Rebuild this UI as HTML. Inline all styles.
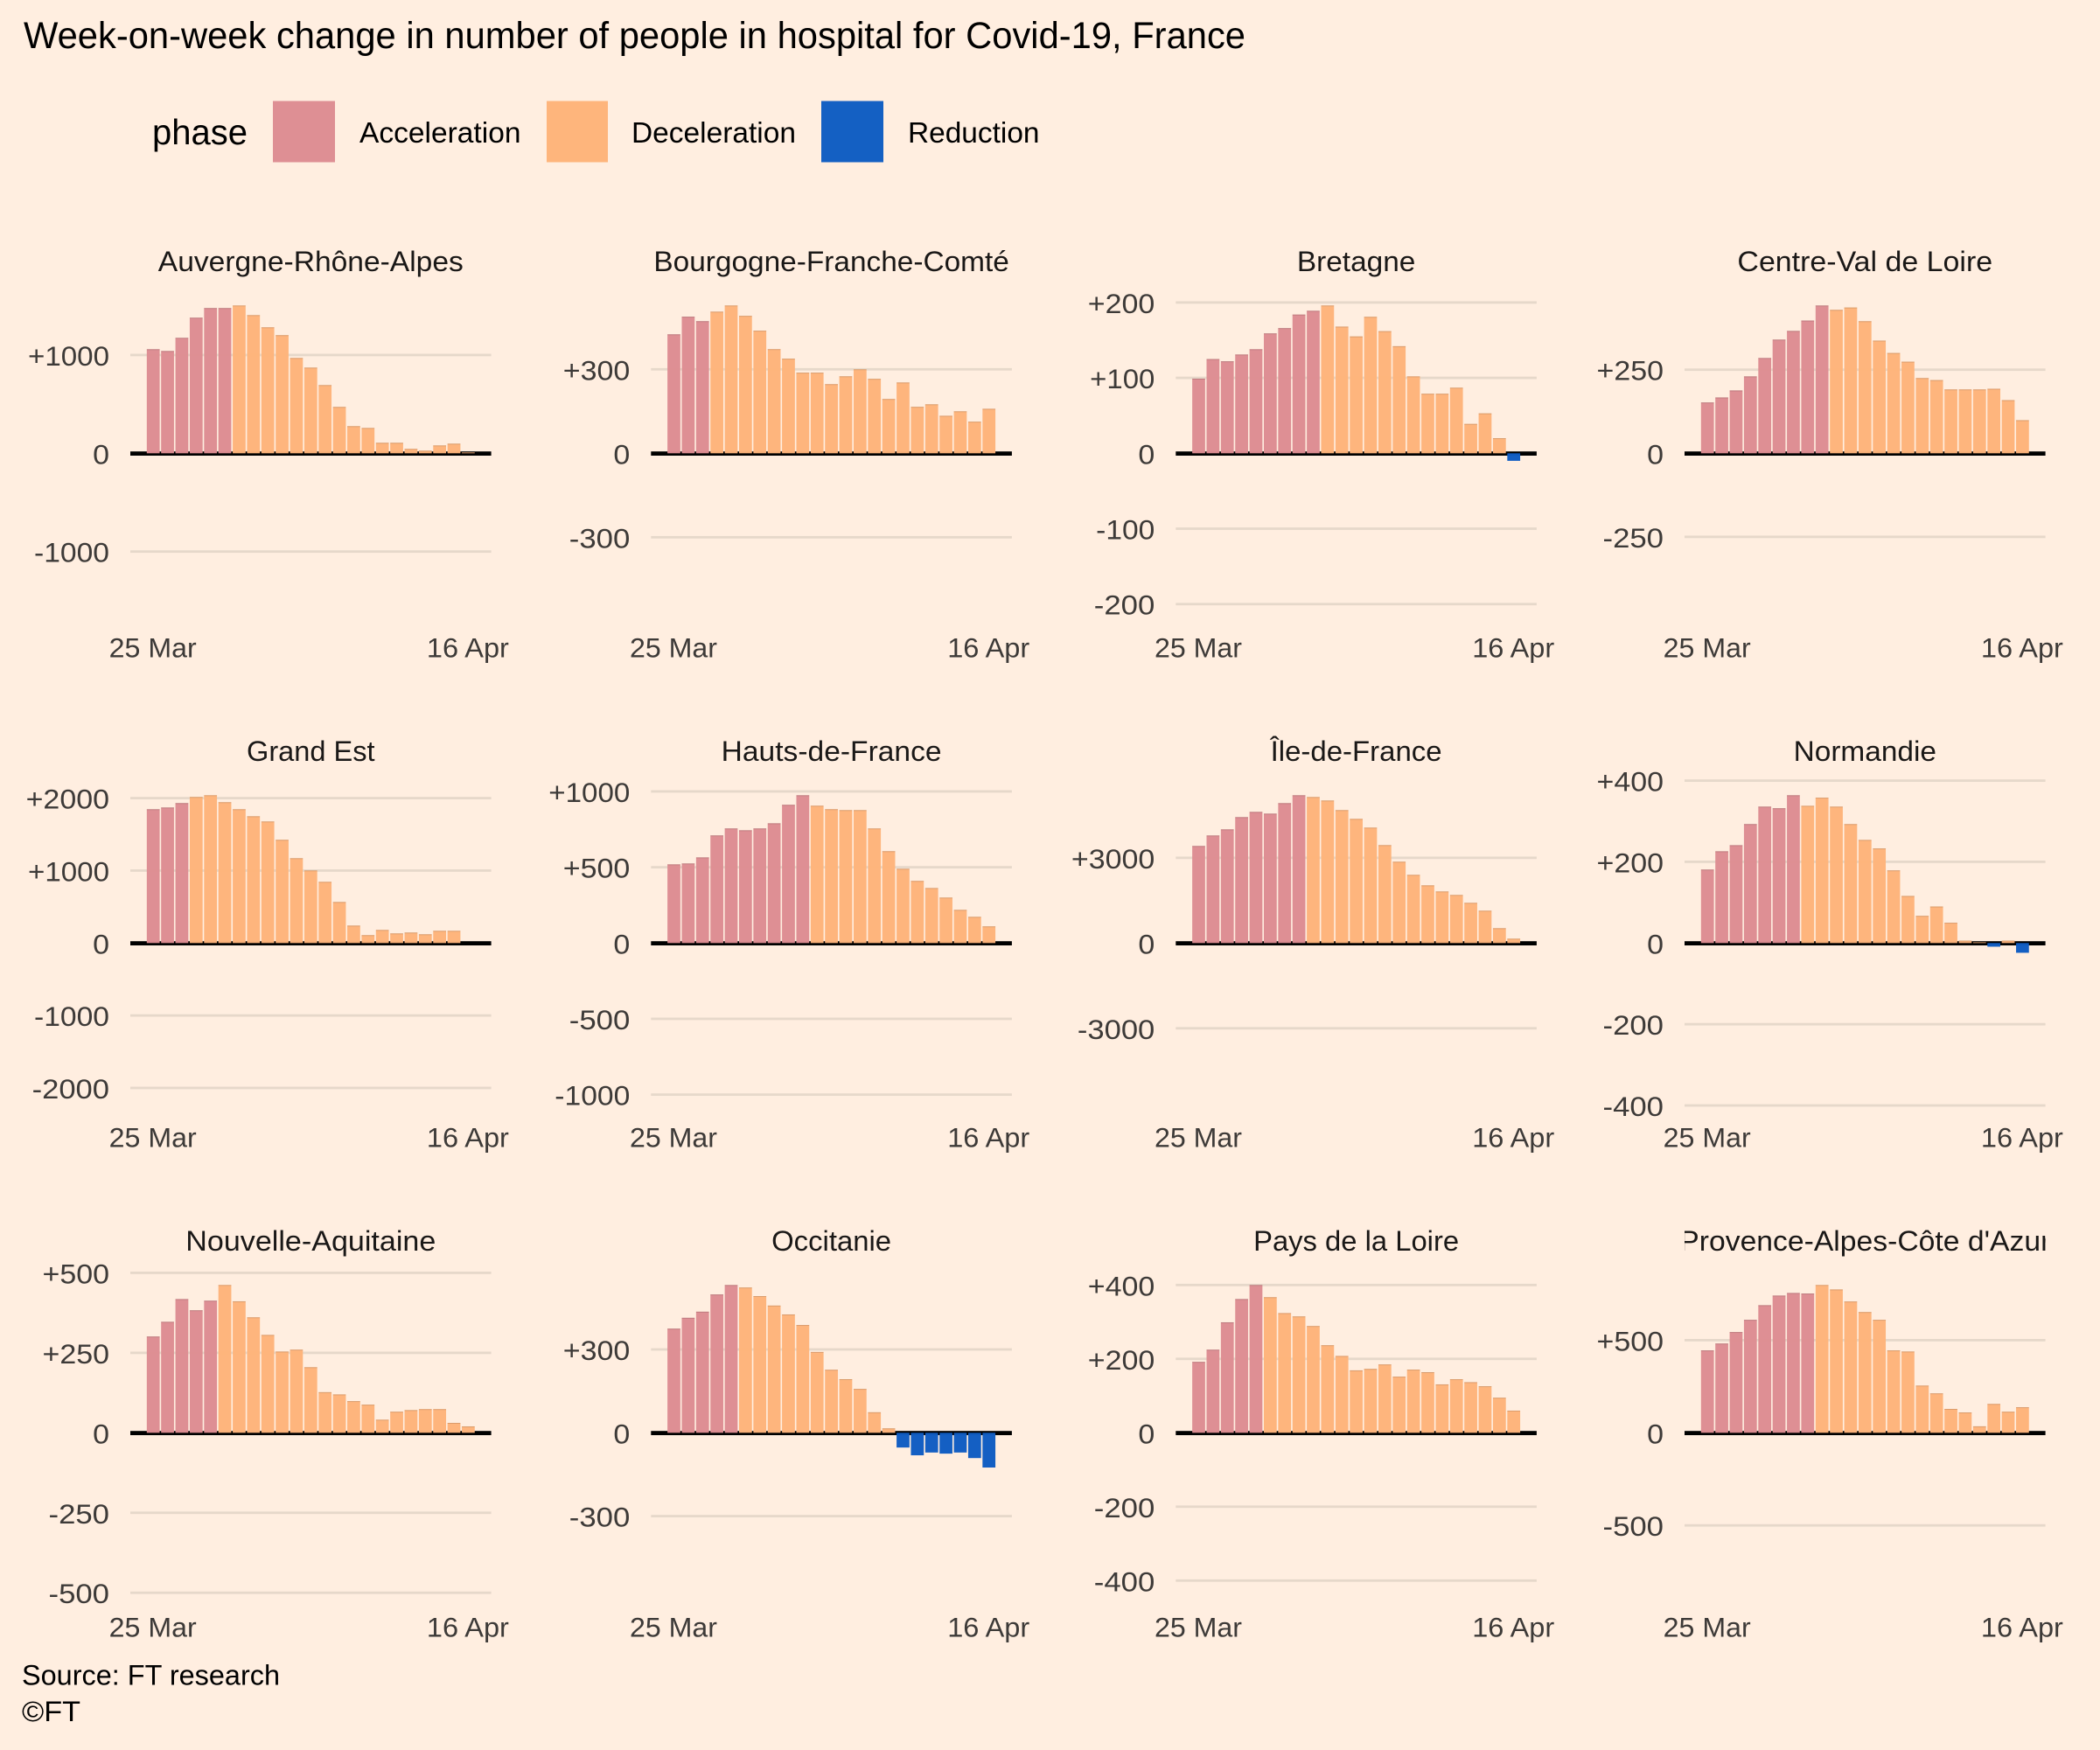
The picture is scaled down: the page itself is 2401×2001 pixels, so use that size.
<!DOCTYPE html>
<html lang="en">
<head>
<meta charset="utf-8">
<title>Week-on-week change in number of people in hospital for Covid-19, France</title>
<style>
html,body{margin:0;padding:0;background:#ffeee0;}
svg{display:block;}
text{font-family:"Liberation Sans",sans-serif;}
</style>
</head>
<body>
<svg id="chart" xmlns="http://www.w3.org/2000/svg" width="2401" height="2001" viewBox="0 0 2401 2001">
  <rect x="0" y="0" width="2401" height="2001" fill="#ffeee0"/>
  <text x="27" y="55" font-size="43" fill="#000" textLength="1397" lengthAdjust="spacingAndGlyphs">Week-on-week change in number of people in hospital for Covid-19, France</text>
  <g>
    <text x="174" y="165" font-size="41" fill="#000" textLength="109" lengthAdjust="spacingAndGlyphs">phase</text>
    <rect x="312" y="115.5" width="71" height="70" fill="#de8f94"/>
    <text x="411" y="163" font-size="33" fill="#000" textLength="184.5" lengthAdjust="spacingAndGlyphs">Acceleration</text>
    <rect x="625" y="115.5" width="70" height="70" fill="#feb57c"/>
    <text x="722" y="163" font-size="33" fill="#000" textLength="188" lengthAdjust="spacingAndGlyphs">Deceleration</text>
    <rect x="939" y="115.5" width="71" height="70" fill="#1460c3"/>
    <text x="1038" y="163" font-size="33" fill="#000" textLength="150.5" lengthAdjust="spacingAndGlyphs">Reduction</text>
  </g>
  <g id="panels"></g>
  <text x="25" y="1926.5" font-size="32" fill="#000" textLength="295" lengthAdjust="spacingAndGlyphs">Source: FT research</text>
  <text x="25" y="1968" font-size="32" fill="#000" textLength="67" lengthAdjust="spacingAndGlyphs">©FT</text>
</svg>
<script>
// ---------- data ----------
const days = ['25 Mar','26 Mar','27 Mar','28 Mar','29 Mar','30 Mar','31 Mar','1 Apr','2 Apr','3 Apr','4 Apr','5 Apr','6 Apr','7 Apr','8 Apr','9 Apr','10 Apr','11 Apr','12 Apr','13 Apr','14 Apr','15 Apr','16 Apr'];
const xTickLabels = ['25 Mar','16 Apr'];

const regionNames = ['Auvergne-Rhône-Alpes','Bourgogne-Franche-Comté','Bretagne','Centre-Val de Loire','Grand Est','Hauts-de-France','Île-de-France','Normandie','Nouvelle-Aquitaine','Occitanie','Pays de la Loire',"Provence-Alpes-Côte d'Azur"];

const auvergneValues = [1059,1041,1175,1380,1478,1478,1504,1406,1282,1202,970,872,694,472,276,258,107,107,45,27,80,98,9];
const bourgogneValues = [425,488,472,506,528,491,438,372,338,288,288,247,275,300,266,194,253,166,175,134,150,113,159];
const bretagneValues = [99,125,122,131,138,159,166,184,189,196,168,155,181,162,142,102,79,79,87,39,53,20,-10];
const centreValues = [152,167,188,230,285,340,366,397,442,429,436,395,337,300,274,225,219,191,191,191,193,159,99];
const grandEstValues = [1847,1871,1932,2016,2040,1944,1847,1750,1678,1425,1171,1002,845,567,241,109,181,133,145,121,169,169,0];
const hautsValues = [519,525,565,710,756,744,756,790,912,975,906,883,877,877,756,606,490,410,363,300,219,173,110];
const ileValues = [3417,3786,4001,4432,4617,4555,4925,5202,5140,5017,4679,4371,4063,3447,2863,2401,2031,1816,1693,1416,1139,523,154];
const normandieValues = [181,226,241,293,336,332,364,338,358,336,293,254,233,179,116,67,90,50,6,2,-9,6,-24];
const nouvelleValues = [301,347,418,383,413,462,411,361,306,254,260,205,127,120,99,88,41,66,71,74,74,31,20];
const occitanieValues = [375,414,436,498,532,523,492,458,426,388,291,227,193,158,74,16,-53,-81,-71,-75,-71,-91,-125];
const paysValues = [192,225,299,362,400,367,324,315,289,237,208,169,173,185,152,171,164,131,145,137,126,95,60];
const provenceValues = [445,482,544,610,689,741,755,752,798,774,709,652,610,445,439,255,213,129,110,35,156,114,138];

const auvergnePhases = 'AAAAAADDDDDDDDDDDDDDDDD'.split('');
const bourgognePhases = 'AAADDDDDDDDDDDDDDDDDDDD'.split('');
const bretagnePhases = 'AAAAAAAAADDDDDDDDDDDDDR'.split('');
const centrePhases = 'AAAAAAAAADDDDDDDDDDDDDD'.split('');
const grandEstPhases = 'AAADDDDDDDDDDDDDDDDDDDD'.split('');
const hautsPhases = 'AAAAAAAAAADDDDDDDDDDDDD'.split('');
const ilePhases = 'AAAAAAAADDDDDDDDDDDDDDD'.split('');
const normandiePhases = 'AAAAAAADDDDDDDDDDDDDRDR'.split('');
const nouvellePhases = 'AAAAADDDDDDDDDDDDDDDDDD'.split('');
const occitaniePhases = 'AAAAADDDDDDDDDDDRRRRRRR'.split('');
const paysPhases = 'AAAAADDDDDDDDDDDDDDDDDD'.split('');
const provencePhases = 'AAAAAAAADDDDDDDDDDDDDDD'.split('');

const auvergneTicks = [1000,0,-1000];
const bourgogneTicks = [300,0,-300];
const bretagneTicks = [200,100,0,-100,-200];
const centreTicks = [250,0,-250];
const grandEstTicks = [2000,1000,0,-1000,-2000];
const hautsTicks = [1000,500,0,-500,-1000];
const ileTicks = [3000,0,-3000];
const normandieTicks = [400,200,0,-200,-400];
const nouvelleTicks = [500,250,0,-250,-500];
const occitanieTicks = [300,0,-300];
const paysTicks = [400,200,0,-200,-400];
const provenceTicks = [500,0,-500];

// value reached at the top of the bar area in each panel (y-axis domain)
const axisMaximums = [1504,528,196,442,2040,975,5202,364,462,532,400,798];

const allValues = [auvergneValues,bourgogneValues,bretagneValues,centreValues,grandEstValues,hautsValues,ileValues,normandieValues,nouvelleValues,occitanieValues,paysValues,provenceValues];
const allPhases = [auvergnePhases,bourgognePhases,bretagnePhases,centrePhases,grandEstPhases,hautsPhases,ilePhases,normandiePhases,nouvellePhases,occitaniePhases,paysPhases,provencePhases];
const allTicks = [auvergneTicks,bourgogneTicks,bretagneTicks,centreTicks,grandEstTicks,hautsTicks,ileTicks,normandieTicks,nouvelleTicks,occitanieTicks,paysTicks,provenceTicks];

// ---------- layout ----------
const NS = 'http://www.w3.org/2000/svg';
const root = document.getElementById('panels');
const columnLefts = [149, 744.3, 1344.3, 1926];
const rowZeros = [518.3, 1078.3, 1638.3];
const plotWidth = 412.6;
const barHeadroom = 169;
const phaseFill = {A:'#dd8d92', D:'#feb47a', R:'#0f5cc2'};
const glyphWidth = {'+':19.8,'-':12.8,'1':16.5,'0':18.9,'2':18.9,'3':18.9,'4':18.9,'5':18.9};
const titleWidths = [349,406.4,135.5,291.7,146.6,252,196,163.3,286,137,235,424];

function make(tag, attrs, parent, text){
  const el = document.createElementNS(NS, tag);
  for (const k in attrs) el.setAttribute(k, attrs[k]);
  if (text !== undefined) el.textContent = text;
  parent.appendChild(el);
  return el;
}
function slug(s){ return s.normalize('NFD').replace(/[\u0300-\u036f]/g,'').replace(/[^A-Za-z]+/g,'-').toLowerCase(); }
function tickLabel(v){ return v > 0 ? '+' + v : String(v); }
function labelWidth(s){ let w = 0; for (const c of s) w += glyphWidth[c] || 18.9; return w; }

const sheetClip = make('clipPath', {id:'sheet-clip'}, root);
make('rect', {x:0, y:0, width:2359, height:2001}, sheetClip);
root.setAttribute('clip-path', 'url(#sheet-clip)');

regionNames.forEach(function(region, p){
  const left = columnLefts[p % 4];
  const zero = rowZeros[Math.floor(p / 4)];
  const values = allValues[p];
  const phases = allPhases[p];
  const ticks = allTicks[p];
  const n = days.length;
  const step = plotWidth / (n - 1 + 3.2);
  const xScale = function(i){ return left + (1.6 + i) * step; };
  const yScale = function(v){ return zero - v * barHeadroom / axisMaximums[p]; };
  const name = slug(region);

  const g = make('g', {}, root);
  
  

  const clip = make('clipPath', {id:'clip-' + p}, g);
  make('rect', {x:left, y:0, width:plotWidth, height:2001}, clip);

  const title = make('text', {x:left + plotWidth / 2, y:zero - 208.3, 'font-size':32.5, fill:'#1a1817', 'text-anchor':'middle', 'clip-path':'url(#clip-' + p + ')', textLength:titleWidths[p], lengthAdjust:'spacingAndGlyphs'}, g, region);
  
  

  ticks.forEach(function(t){
    const grid = make('rect', {x:left, y:yScale(t) - 1.4, width:plotWidth, height:2.8, fill:'#e6d8ca'}, g);
    
    
    const s = tickLabel(t);
    const lab = make('text', {x:left - 24, y:yScale(t) + 12, 'font-size':31.5, fill:'#3d3a38', 'text-anchor':'end', textLength:labelWidth(s), lengthAdjust:'spacingAndGlyphs'}, g, s);
    
    
  });

  const axis = make('rect', {x:left, y:zero - 2.1, width:plotWidth, height:4.8, fill:'#000'}, g);
  
  

  values.forEach(function(v, i){
    const y0 = yScale(0), y1 = yScale(v);
    const top = Math.min(y0, y1), h = Math.abs(y1 - y0);
    const bw = step * 0.9;
    const bar = make('rect', {x:xScale(i) - bw / 2, y:top, width:bw, height:h, fill:phaseFill[phases[i]], 'fill-opacity':0.98}, g);
    
    
    if (v > 0) {
      const edge = make('rect', {x:xScale(i) - bw / 2, y:top, width:bw, height:Math.min(1, h), fill:'#000', 'fill-opacity':0.14}, g);
      
      
    }
  });

  xTickLabels.forEach(function(label){
    const idx = days.indexOf(label);
    const xl = make('text', {x:xScale(idx) - 0.5, y:zero + 233.4, 'font-size':31.5, fill:'#3d3a38', 'text-anchor':'middle', textLength:label === '25 Mar' ? 100 : 94, lengthAdjust:'spacingAndGlyphs'}, g, label);
    
    
  });
});
</script>
</body>
</html>
